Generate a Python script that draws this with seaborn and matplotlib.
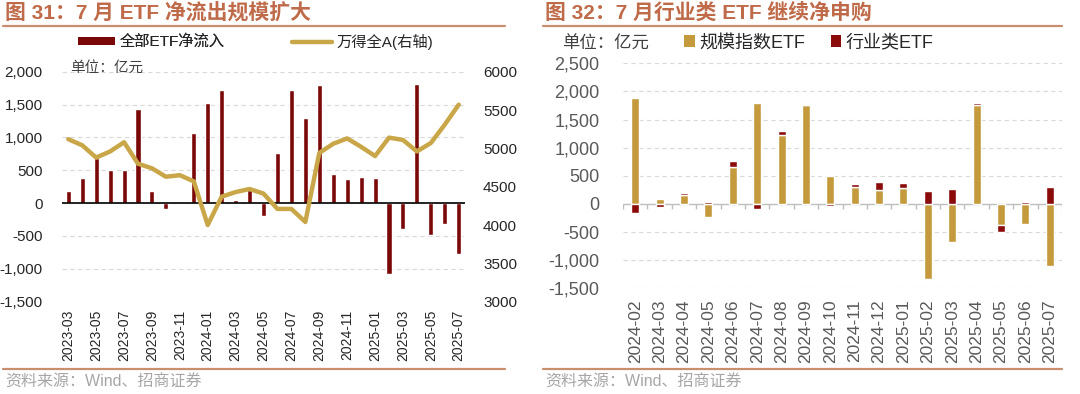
import numpy as np
import pandas as pd
import matplotlib
matplotlib.use("Agg")
import matplotlib.pyplot as plt
import seaborn as sns
from matplotlib.lines import Line2D
from matplotlib.patches import Patch
from matplotlib.ticker import FuncFormatter

# ---------------- data ----------------
months_l = ['2023-03', '2023-04', '2023-05', '2023-06', '2023-07', '2023-08', '2023-09',
            '2023-10', '2023-11', '2023-12', '2024-01', '2024-02', '2024-03', '2024-04',
            '2024-05', '2024-06', '2024-07', '2024-08', '2024-09', '2024-10', '2024-11',
            '2024-12', '2025-01', '2025-02', '2025-03', '2025-04', '2025-05', '2025-06',
            '2025-07']
etf_flow = [190, 380, 680, 500, 500, 1430, 180, -90, 20, 1070, 1520, 1720, 40, 200,
            -190, 770, 1720, 1300, 1790, 440, 360, 390, 375, -1080, -390, 1810, -490,
            -320, -780]
wind_a = [5120, 5040, 4880, 4960, 5080, 4800, 4740, 4630, 4650, 4570, 4000, 4370, 4430,
          4470, 4410, 4210, 4210, 4040, 4940, 5060, 5130, 5020, 4900, 5140, 5110, 4960,
          5070, 5310, 5570]
left_yticks = [-1500, -1000, -500, 0, 500, 1000, 1500, 2000]
right_yticks = [3000, 3500, 4000, 4500, 5000, 5500, 6000]

months_r = ['2024-02', '2024-03', '2024-04', '2024-05', '2024-06', '2024-07', '2024-08',
            '2024-09', '2024-10', '2024-11', '2024-12', '2025-01', '2025-02', '2025-03',
            '2025-04', '2025-05', '2025-06', '2025-07']
broad_etf = [1880, 80, 165, -230, 660, 1800, 1230, 1750, 490, 300, 240, 290, -1330, -680,
             1760, -370, -350, -1100]
sector_etf = [-170, -50, 25, 35, 95, -90, 70, 25, -45, 55, 150, 90, 230, 260, 40, -130,
              30, 300]
r_yticks = [-1500, -1000, -500, 0, 500, 1000, 1500, 2000, 2500]

# ---------------- style ----------------
sns.set_theme(style="white")
plt.rcParams['font.family'] = ['Liberation Sans', 'Noto Sans CJK SC', 'DejaVu Sans']
plt.rcParams['axes.unicode_minus'] = False

W, H = 1080, 394
fig = plt.figure(figsize=(W / 100, H / 100), dpi=100)


def box(x0, y0, x1, y1):
    return [x0 / W, 1 - y1 / H, (x1 - x0) / W, (y1 - y0) / H]


RED_L = '#7B0808'
GOLD_LINE = '#C9A748'
GOLD = '#C49A3C'
RED_R = '#8B0A0A'
TITLE_C = '#BF6A48'
RULE_C = '#C98E6E'
GRID_C = '#D9D9D9'
comma = FuncFormatter(lambda v, p: f'{v:,.0f}')

# ---------------- left chart ----------------
ax1 = fig.add_axes(box(62, 71.7, 465, 301.7))
df_l = pd.DataFrame({'month': months_l, 'flow': etf_flow, 'wind': wind_a})
sns.barplot(data=df_l, x='month', y='flow', color=RED_L, saturation=1, width=0.36, ax=ax1)
ax1.set_xlim(-0.45, len(months_l) - 0.55)
ax1.set_ylim(left_yticks[0], left_yticks[-1])
ax1.set_yticks(left_yticks)
ax1.yaxis.set_major_formatter(comma)
ax1.grid(axis='y', linestyle=(0, (4, 3)), color=GRID_C, lw=0.8)
ax1.grid(axis='x', visible=False)
ax1.set_axisbelow(True)
ax1.axhline(0, color='black', lw=1.2, zorder=1.5)
for s in ax1.spines.values():
    s.set_visible(False)
ax1.set_xticks(range(0, len(months_l), 2))
ax1.set_xticklabels(months_l[::2], rotation=90)
ax1.tick_params(axis='x', length=0, pad=6, labelsize=10, colors='#262626')
ax1.tick_params(axis='y', length=0, pad=14, labelsize=11, colors='#262626')
ax1.set_xlabel('')
ax1.set_ylabel('')

ax2 = ax1.twinx()
sns.lineplot(data=df_l, x='month', y='wind', color=GOLD_LINE, lw=3.2, sort=False, ax=ax2)
ax2.set_ylim(right_yticks[0], right_yticks[-1])
ax2.set_yticks(right_yticks)
ax2.yaxis.set_major_formatter(FuncFormatter(lambda v, p: f'{v:.0f}'))
ax2.tick_params(axis='y', length=0, pad=13, labelsize=11, colors='#262626')
for s in ax2.spines.values():
    s.set_visible(False)
ax2.grid(False)
ax2.set_xlabel('')
ax2.set_ylabel('')
ax1.set_xlim(-0.45, len(months_l) - 0.55)

fig.text(70 / W, 1 - 68 / H, '单位：亿元', fontsize=10.5, color='#404040', va='center')

leg1 = fig.legend(handles=[Patch(facecolor=RED_L, edgecolor='none', label='全部ETF净流入')],
                  loc='center left', bbox_to_anchor=(78 / W, 1 - 42 / H), frameon=False,
                  fontsize=11, handlelength=2.4, handleheight=0.45, handletextpad=0.3,
                  borderaxespad=0, borderpad=0)
leg2 = fig.legend(handles=[Line2D([], [], color=GOLD_LINE, lw=3.2, label='万得全A(右轴)')],
                  loc='center left', bbox_to_anchor=(292 / W, 1 - 42 / H), frameon=False,
                  fontsize=11, handlelength=2.6, handletextpad=0.3,
                  borderaxespad=0, borderpad=0)
fig.add_artist(leg1)

# ---------------- right chart ----------------
ax3 = fig.add_axes(box(623, 63.3, 1062, 288.3))
broad = np.array(broad_etf, dtype=float)
sector = np.array(sector_etf, dtype=float)
sector_bottom = np.where(np.sign(sector) == np.sign(broad), broad, 0.0)
sns.barplot(x=months_r, y=broad, color=GOLD, saturation=1, width=0.33, ax=ax3)
sns.barplot(x=months_r, y=sector, bottom=sector_bottom, color=RED_R, saturation=1,
            width=0.33, ax=ax3)
ax3.set_xlim(-0.5, len(months_r) - 0.5)
ax3.set_ylim(r_yticks[0], r_yticks[-1])
ax3.set_yticks(r_yticks)
ax3.yaxis.set_major_formatter(comma)
ax3.grid(axis='y', linestyle=(0, (4, 3)), color=GRID_C, lw=0.8)
ax3.grid(axis='x', visible=False)
ax3.set_axisbelow(True)
ax3.axhline(0, color='#BFBFBF', lw=1.0, zorder=0.8)
ax3.vlines(np.arange(len(months_r) + 1) - 0.5, 0, -90, color='#BFBFBF', lw=1.0, zorder=0.8)
for s in ax3.spines.values():
    s.set_visible(False)
ax3.set_xticks(range(len(months_r)))
ax3.set_xticklabels(months_r, rotation=90)
ax3.tick_params(axis='x', length=0, pad=8, labelsize=12.5, colors='#595959')
ax3.tick_params(axis='y', length=0, pad=17, labelsize=13, colors='#595959')
ax3.set_xlabel('')
ax3.set_ylabel('')

fig.text(562 / W, 1 - 44 / H, '单位：亿元', fontsize=12.5, color='#404040', va='center')
fig.legend(handles=[Patch(facecolor=GOLD, edgecolor='none', label='规模指数ETF'),
                    Patch(facecolor=RED_R, edgecolor='none', label='行业类ETF')],
           loc='center left', bbox_to_anchor=(684 / W, 1 - 43 / H), frameon=False, ncol=2,
           fontsize=13, handlelength=0.6, handleheight=0.6, handletextpad=0.25,
           columnspacing=1.4, borderaxespad=0, borderpad=0)

# ---------------- titles, rules, source ----------------
fig.text(5 / W, 1 - 13 / H, '图 31：7 月 ETF 净流出规模扩大', fontsize=15, fontweight='bold',
         color=TITLE_C, va='center')
fig.text(545 / W, 1 - 13 / H, '图 32：7 月行业类 ETF 继续净申购', fontsize=15, fontweight='bold',
         color=TITLE_C, va='center')
for x0, x1 in [(3, 505), (543, 1062)]:
    fig.add_artist(Line2D([x0 / W, x1 / W], [1 - 26 / H] * 2, color=RULE_C, lw=1.6))
    fig.add_artist(Line2D([x0 / W, x1 / W], [1 - 369 / H] * 2, color=RULE_C, lw=1.6))
fig.text(5 / W, 1 - 382 / H, '资料来源：Wind、招商证券', fontsize=11.5, color='#A6A6A6', va='center')
fig.text(545 / W, 1 - 382 / H, '资料来源：Wind、招商证券', fontsize=11.5, color='#A6A6A6', va='center')

fig.savefig('out.png', dpi=100)
